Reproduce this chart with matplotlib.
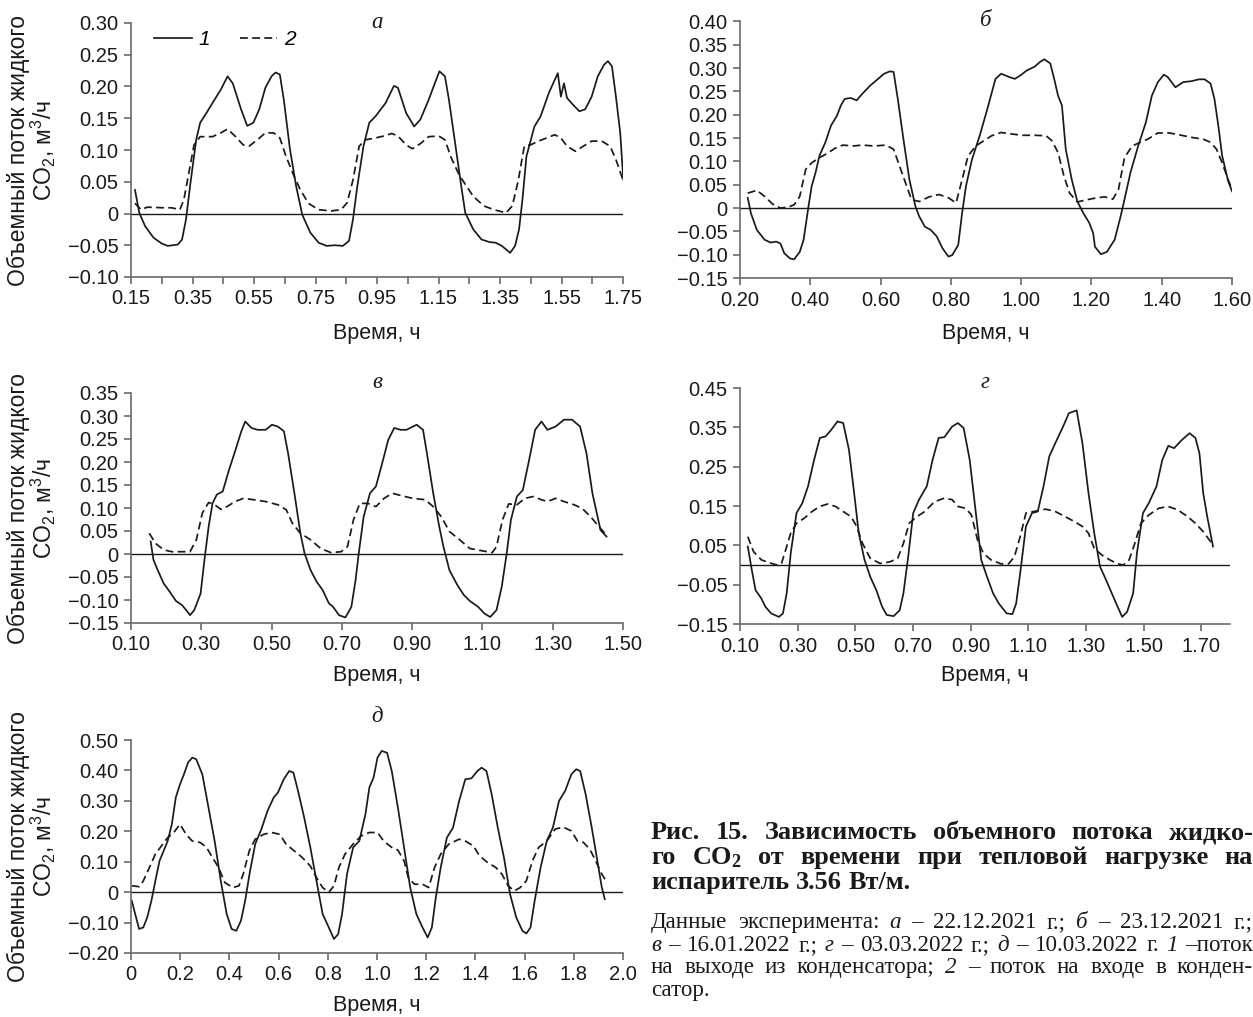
import numpy as np
import matplotlib
matplotlib.use('Agg')
import matplotlib.pyplot as plt
from matplotlib.ticker import FixedLocator, FuncFormatter
from matplotlib.lines import Line2D

plt.rcParams['font.family'] = ['Liberation Sans', 'DejaVu Sans']
plt.rcParams['mathtext.default'] = 'regular'

W, H = 1253, 1017

# ---------------------------------------------------------------------------
# data: (time, h ; flow, m3/h)
# 1 - outlet of condenser (solid), 2 - inlet of condenser (dashed)
# ---------------------------------------------------------------------------
a_out = np.array([
    [0.163, 0.037], [0.177, 0.001], [0.196, -0.020], [0.223, -0.038],
    [0.249, -0.047], [0.269, -0.051], [0.302, -0.049], [0.316, -0.041],
    [0.329, -0.009], [0.342, 0.043], [0.362, 0.116], [0.375, 0.143],
    [0.395, 0.158], [0.415, 0.174], [0.442, 0.195], [0.464, 0.216],
    [0.481, 0.205], [0.508, 0.164], [0.528, 0.138], [0.548, 0.143],
    [0.567, 0.164], [0.587, 0.198], [0.607, 0.216], [0.620, 0.222],
    [0.634, 0.219], [0.647, 0.179], [0.667, 0.101], [0.687, 0.043],
    [0.707, -0.002], [0.733, -0.030], [0.760, -0.046], [0.786, -0.051],
    [0.813, -0.050], [0.839, -0.051], [0.859, -0.043], [0.872, -0.009],
    [0.886, 0.043], [0.906, 0.106], [0.925, 0.143], [0.945, 0.153],
    [0.978, 0.174], [1.005, 0.201], [1.018, 0.198], [1.045, 0.158],
    [1.071, 0.137], [1.091, 0.148], [1.118, 0.179], [1.138, 0.205],
    [1.153, 0.224], [1.171, 0.216], [1.184, 0.179], [1.204, 0.111],
    [1.224, 0.043], [1.237, 0.001], [1.263, -0.025], [1.290, -0.041],
    [1.316, -0.045], [1.336, -0.046], [1.356, -0.051], [1.383, -0.062],
    [1.399, -0.051], [1.412, -0.025], [1.423, 0.022], [1.436, 0.090],
    [1.462, 0.137], [1.482, 0.153], [1.509, 0.190], [1.538, 0.221],
    [1.548, 0.184], [1.558, 0.205], [1.568, 0.182], [1.588, 0.171],
    [1.608, 0.161], [1.627, 0.164], [1.648, 0.184], [1.668, 0.216],
    [1.688, 0.234], [1.701, 0.240], [1.714, 0.232], [1.727, 0.184],
    [1.741, 0.127], [1.751, 0.053]])
a_in = np.array([
    [0.163, 0.016], [0.183, 0.006], [0.203, 0.010], [0.256, 0.009],
    [0.282, 0.009], [0.309, 0.006], [0.322, 0.022], [0.342, 0.074],
    [0.355, 0.108], [0.375, 0.121], [0.415, 0.121], [0.442, 0.127],
    [0.464, 0.133], [0.488, 0.122], [0.515, 0.108], [0.534, 0.106],
    [0.561, 0.116], [0.587, 0.127], [0.614, 0.127], [0.634, 0.119],
    [0.654, 0.090], [0.680, 0.059], [0.700, 0.038], [0.727, 0.016],
    [0.760, 0.006], [0.800, 0.004], [0.833, 0.006], [0.853, 0.017],
    [0.872, 0.053], [0.892, 0.106], [0.912, 0.116], [0.945, 0.119],
    [0.972, 0.122], [0.998, 0.126], [1.018, 0.122], [1.045, 0.108],
    [1.065, 0.102], [1.091, 0.110], [1.118, 0.121], [1.151, 0.122],
    [1.171, 0.116], [1.191, 0.088], [1.217, 0.061], [1.237, 0.046],
    [1.263, 0.027], [1.297, 0.012], [1.330, 0.006], [1.370, 0.001],
    [1.390, 0.012], [1.409, 0.051], [1.429, 0.106], [1.449, 0.108],
    [1.475, 0.114], [1.502, 0.119], [1.528, 0.124], [1.548, 0.119],
    [1.568, 0.106], [1.595, 0.098], [1.621, 0.106], [1.648, 0.114],
    [1.681, 0.114], [1.708, 0.106], [1.727, 0.085], [1.751, 0.051]])

b_out = np.array([
    [0.222, 0.022], [0.231, -0.011], [0.248, -0.047], [0.270, -0.068],
    [0.287, -0.074], [0.303, -0.072], [0.315, -0.076], [0.326, -0.097],
    [0.342, -0.108], [0.354, -0.110], [0.370, -0.094], [0.381, -0.068],
    [0.395, 0.004], [0.404, 0.047], [0.415, 0.076], [0.426, 0.112],
    [0.443, 0.141], [0.459, 0.177], [0.476, 0.198], [0.487, 0.220],
    [0.498, 0.234], [0.515, 0.236], [0.532, 0.231], [0.548, 0.245],
    [0.571, 0.263], [0.593, 0.277], [0.610, 0.288], [0.626, 0.293],
    [0.637, 0.292], [0.649, 0.234], [0.665, 0.148], [0.682, 0.061],
    [0.699, 0.004], [0.710, -0.018], [0.726, -0.040], [0.743, -0.047],
    [0.760, -0.061], [0.776, -0.086], [0.793, -0.104], [0.804, -0.101],
    [0.821, -0.079], [0.832, -0.011], [0.843, 0.047], [0.860, 0.104],
    [0.882, 0.155], [0.904, 0.213], [0.927, 0.277], [0.943, 0.288],
    [0.966, 0.281], [0.982, 0.277], [0.999, 0.285], [1.016, 0.295],
    [1.038, 0.303], [1.055, 0.314], [1.066, 0.319], [1.083, 0.310],
    [1.094, 0.277], [1.105, 0.241], [1.116, 0.220], [1.127, 0.126],
    [1.144, 0.061], [1.160, 0.014], [1.177, -0.011], [1.194, -0.032],
    [1.205, -0.054], [1.210, -0.083], [1.227, -0.099], [1.244, -0.094],
    [1.266, -0.068], [1.283, -0.018], [1.294, 0.018], [1.311, 0.076],
    [1.333, 0.133], [1.355, 0.184], [1.372, 0.241], [1.389, 0.270],
    [1.406, 0.286], [1.417, 0.281], [1.439, 0.259], [1.461, 0.270],
    [1.484, 0.272], [1.506, 0.276], [1.522, 0.276], [1.539, 0.267],
    [1.550, 0.234], [1.561, 0.177], [1.572, 0.112], [1.589, 0.058],
    [1.600, 0.036]])
b_in = np.array([
    [0.222, 0.032], [0.248, 0.038], [0.270, 0.025], [0.292, 0.009],
    [0.315, 0.000], [0.337, 0.002], [0.354, 0.007], [0.370, 0.025],
    [0.387, 0.083], [0.404, 0.097], [0.426, 0.108], [0.448, 0.117],
    [0.470, 0.128], [0.493, 0.135], [0.521, 0.133], [0.548, 0.135],
    [0.582, 0.133], [0.615, 0.135], [0.637, 0.126], [0.654, 0.090],
    [0.671, 0.054], [0.688, 0.018], [0.710, 0.014], [0.738, 0.024],
    [0.766, 0.029], [0.793, 0.022], [0.815, 0.011], [0.832, 0.061],
    [0.849, 0.112], [0.871, 0.133], [0.893, 0.144], [0.916, 0.155],
    [0.943, 0.162], [0.971, 0.159], [1.004, 0.156], [1.038, 0.156],
    [1.071, 0.155], [1.088, 0.144], [1.105, 0.119], [1.122, 0.068],
    [1.138, 0.032], [1.160, 0.013], [1.188, 0.018], [1.216, 0.022],
    [1.238, 0.024], [1.261, 0.019], [1.277, 0.040], [1.294, 0.108],
    [1.316, 0.133], [1.339, 0.141], [1.361, 0.148], [1.389, 0.161],
    [1.422, 0.161], [1.456, 0.156], [1.489, 0.151], [1.517, 0.148],
    [1.539, 0.141], [1.556, 0.126], [1.572, 0.097], [1.589, 0.061],
    [1.600, 0.040]])

v_out = np.array([
    [0.156, 0.027], [0.164, -0.013], [0.176, -0.035], [0.193, -0.064],
    [0.210, -0.082], [0.228, -0.102], [0.245, -0.111], [0.257, -0.122],
    [0.268, -0.133], [0.280, -0.122], [0.298, -0.086], [0.309, -0.013],
    [0.321, 0.060], [0.332, 0.110], [0.344, 0.129], [0.361, 0.136],
    [0.379, 0.183], [0.396, 0.223], [0.414, 0.267], [0.425, 0.288],
    [0.443, 0.274], [0.460, 0.270], [0.483, 0.270], [0.501, 0.281],
    [0.518, 0.277], [0.535, 0.267], [0.547, 0.219], [0.565, 0.132],
    [0.582, 0.045], [0.594, 0.001], [0.611, -0.035], [0.628, -0.060],
    [0.645, -0.078], [0.663, -0.107], [0.675, -0.115], [0.692, -0.133],
    [0.710, -0.138], [0.727, -0.115], [0.739, -0.057], [0.748, 0.001],
    [0.762, 0.081], [0.780, 0.132], [0.797, 0.147], [0.815, 0.198],
    [0.832, 0.248], [0.849, 0.274], [0.867, 0.270], [0.884, 0.270],
    [0.902, 0.277], [0.913, 0.281], [0.931, 0.270], [0.942, 0.219],
    [0.960, 0.132], [0.977, 0.060], [0.989, 0.016], [1.006, -0.035],
    [1.029, -0.068], [1.047, -0.089], [1.064, -0.102], [1.088, -0.115],
    [1.105, -0.129], [1.122, -0.137], [1.140, -0.122], [1.155, -0.071],
    [1.169, 0.001], [1.181, 0.074], [1.198, 0.125], [1.215, 0.139],
    [1.233, 0.205], [1.250, 0.270], [1.268, 0.288], [1.285, 0.270],
    [1.308, 0.277], [1.332, 0.292], [1.355, 0.292], [1.378, 0.277],
    [1.396, 0.219], [1.413, 0.132], [1.436, 0.052], [1.453, 0.038]])
v_in = np.array([
    [0.152, 0.045], [0.170, 0.023], [0.193, 0.009], [0.216, 0.005],
    [0.245, 0.005], [0.268, 0.005], [0.286, 0.031], [0.303, 0.089],
    [0.321, 0.112], [0.338, 0.107], [0.356, 0.097], [0.373, 0.103],
    [0.396, 0.114], [0.420, 0.121], [0.449, 0.118], [0.483, 0.114],
    [0.518, 0.107], [0.542, 0.096], [0.559, 0.067], [0.582, 0.045],
    [0.611, 0.031], [0.640, 0.012], [0.669, 0.003], [0.698, 0.005],
    [0.716, 0.016], [0.733, 0.074], [0.751, 0.110], [0.774, 0.110],
    [0.797, 0.103], [0.820, 0.121], [0.844, 0.132], [0.873, 0.126],
    [0.902, 0.121], [0.937, 0.118], [0.960, 0.103], [0.983, 0.081],
    [1.006, 0.049], [1.035, 0.031], [1.064, 0.012], [1.099, 0.007],
    [1.128, 0.003], [1.140, 0.016], [1.157, 0.074], [1.175, 0.109],
    [1.198, 0.107], [1.221, 0.121], [1.245, 0.125], [1.268, 0.118],
    [1.285, 0.114], [1.308, 0.121], [1.332, 0.114], [1.361, 0.107],
    [1.384, 0.099], [1.408, 0.081], [1.431, 0.060], [1.453, 0.041]])

g_out = np.array([
    [0.127, 0.047], [0.141, -0.013], [0.154, -0.064], [0.174, -0.085],
    [0.188, -0.106], [0.208, -0.123], [0.235, -0.132], [0.249, -0.123],
    [0.262, -0.072], [0.276, 0.030], [0.296, 0.132], [0.316, 0.157],
    [0.336, 0.200], [0.357, 0.267], [0.377, 0.323], [0.397, 0.327],
    [0.417, 0.344], [0.438, 0.365], [0.458, 0.361], [0.478, 0.293],
    [0.496, 0.183], [0.512, 0.081], [0.532, 0.013], [0.552, -0.030],
    [0.573, -0.064], [0.593, -0.106], [0.609, -0.127], [0.633, -0.130],
    [0.654, -0.115], [0.667, -0.072], [0.685, 0.030], [0.701, 0.132],
    [0.721, 0.166], [0.748, 0.200], [0.768, 0.267], [0.789, 0.323],
    [0.809, 0.325], [0.836, 0.352], [0.856, 0.361], [0.876, 0.348],
    [0.897, 0.267], [0.917, 0.140], [0.937, 0.013], [0.957, -0.030],
    [0.978, -0.072], [0.998, -0.098], [1.025, -0.123], [1.045, -0.125],
    [1.058, -0.098], [1.072, -0.021], [1.092, 0.098], [1.113, 0.132],
    [1.133, 0.136], [1.153, 0.200], [1.173, 0.276], [1.194, 0.310],
    [1.221, 0.352], [1.241, 0.386], [1.268, 0.393], [1.288, 0.310],
    [1.309, 0.183], [1.329, 0.081], [1.349, -0.004], [1.370, -0.038],
    [1.390, -0.072], [1.410, -0.106], [1.426, -0.132], [1.443, -0.119],
    [1.464, -0.072], [1.477, 0.030], [1.498, 0.132], [1.518, 0.157],
    [1.545, 0.200], [1.565, 0.267], [1.586, 0.303], [1.606, 0.297],
    [1.633, 0.318], [1.660, 0.335], [1.680, 0.323], [1.694, 0.284],
    [1.707, 0.183], [1.721, 0.123], [1.741, 0.047]])
g_in = np.array([
    [0.127, 0.072], [0.147, 0.034], [0.174, 0.013], [0.201, 0.006],
    [0.228, 0.000], [0.244, 0.004], [0.262, 0.047], [0.276, 0.081],
    [0.296, 0.106], [0.323, 0.119], [0.350, 0.136], [0.377, 0.149],
    [0.404, 0.155], [0.431, 0.149], [0.458, 0.136], [0.485, 0.123],
    [0.505, 0.098], [0.525, 0.055], [0.552, 0.017], [0.586, 0.004],
    [0.620, 0.008], [0.647, 0.017], [0.667, 0.055], [0.687, 0.106],
    [0.714, 0.123], [0.741, 0.136], [0.775, 0.161], [0.809, 0.170],
    [0.836, 0.166], [0.856, 0.149], [0.883, 0.144], [0.903, 0.127],
    [0.924, 0.064], [0.944, 0.030], [0.971, 0.013], [1.005, 0.003],
    [1.032, 0.003], [1.052, 0.021], [1.072, 0.072], [1.092, 0.132],
    [1.119, 0.136], [1.160, 0.142], [1.194, 0.136], [1.228, 0.123],
    [1.261, 0.110], [1.288, 0.098], [1.309, 0.081], [1.329, 0.042],
    [1.356, 0.025], [1.383, 0.013], [1.410, 0.003], [1.430, 0.000],
    [1.450, 0.013], [1.468, 0.051], [1.491, 0.106], [1.518, 0.127],
    [1.552, 0.144], [1.585, 0.149], [1.619, 0.140], [1.653, 0.123],
    [1.680, 0.106], [1.707, 0.085], [1.741, 0.051]])

d_out = np.array([
    [0.003, -0.028], [0.017, -0.072], [0.033, -0.121], [0.050, -0.116],
    [0.066, -0.083], [0.083, -0.028], [0.099, 0.037], [0.116, 0.103],
    [0.133, 0.136], [0.149, 0.168], [0.166, 0.223], [0.182, 0.311],
    [0.199, 0.354], [0.215, 0.387], [0.232, 0.426], [0.249, 0.442],
    [0.265, 0.437], [0.290, 0.387], [0.315, 0.278], [0.340, 0.168],
    [0.365, 0.037], [0.389, -0.072], [0.409, -0.121], [0.428, -0.127],
    [0.447, -0.094], [0.464, -0.028], [0.484, 0.070], [0.505, 0.158],
    [0.530, 0.207], [0.555, 0.267], [0.580, 0.311], [0.597, 0.327],
    [0.621, 0.371], [0.643, 0.398], [0.660, 0.393], [0.679, 0.333],
    [0.704, 0.245], [0.729, 0.147], [0.754, 0.037], [0.779, -0.072],
    [0.804, -0.116], [0.825, -0.154], [0.842, -0.138], [0.858, -0.072],
    [0.878, 0.059], [0.903, 0.147], [0.928, 0.168], [0.953, 0.256],
    [0.969, 0.344], [0.986, 0.376], [1.002, 0.442], [1.019, 0.464],
    [1.041, 0.458], [1.060, 0.398], [1.085, 0.278], [1.110, 0.147],
    [1.135, 0.015], [1.160, -0.072], [1.185, -0.116], [1.206, -0.149],
    [1.223, -0.116], [1.239, -0.018], [1.259, 0.081], [1.284, 0.179],
    [1.309, 0.212], [1.334, 0.300], [1.359, 0.371], [1.384, 0.374],
    [1.408, 0.398], [1.425, 0.409], [1.445, 0.398], [1.466, 0.322],
    [1.491, 0.212], [1.516, 0.114], [1.541, -0.007], [1.566, -0.083],
    [1.591, -0.127], [1.607, -0.136], [1.624, -0.116], [1.641, -0.028],
    [1.665, 0.081], [1.690, 0.168], [1.715, 0.212], [1.740, 0.300],
    [1.765, 0.333], [1.790, 0.387], [1.810, 0.404], [1.826, 0.398],
    [1.848, 0.322], [1.873, 0.212], [1.898, 0.092], [1.914, 0.015],
    [1.926, -0.023]])
d_in = np.array([
    [0.003, 0.021], [0.033, 0.018], [0.050, 0.037], [0.075, 0.081],
    [0.099, 0.125], [0.124, 0.152], [0.149, 0.179], [0.174, 0.196],
    [0.199, 0.223], [0.224, 0.190], [0.249, 0.168], [0.282, 0.163],
    [0.307, 0.147], [0.331, 0.114], [0.356, 0.081], [0.381, 0.032],
    [0.414, 0.015], [0.439, 0.021], [0.456, 0.059], [0.481, 0.136],
    [0.505, 0.174], [0.539, 0.190], [0.572, 0.196], [0.605, 0.190],
    [0.630, 0.158], [0.663, 0.136], [0.696, 0.114], [0.729, 0.086],
    [0.754, 0.048], [0.779, 0.015], [0.804, -0.001], [0.825, 0.021],
    [0.845, 0.081], [0.870, 0.125], [0.903, 0.158], [0.936, 0.185],
    [0.969, 0.196], [1.002, 0.196], [1.027, 0.168], [1.060, 0.147],
    [1.085, 0.138], [1.110, 0.103], [1.127, 0.048], [1.152, 0.026],
    [1.185, 0.026], [1.210, 0.015], [1.234, 0.081], [1.259, 0.125],
    [1.292, 0.158], [1.334, 0.174], [1.359, 0.168], [1.392, 0.152],
    [1.417, 0.119], [1.450, 0.097], [1.483, 0.081], [1.508, 0.059],
    [1.533, 0.021], [1.558, 0.004], [1.582, 0.015], [1.607, 0.037],
    [1.632, 0.103], [1.657, 0.147], [1.690, 0.168], [1.724, 0.207],
    [1.757, 0.214], [1.790, 0.201], [1.815, 0.168], [1.840, 0.163],
    [1.865, 0.141], [1.889, 0.103], [1.914, 0.059], [1.931, 0.037]])

# panel letters, axis ranges and ticks
letters = ['а', 'б', 'в', 'г', 'д']
xlims = [(0.15, 1.75), (0.20, 1.60), (0.10, 1.50), (0.10, 1.80), (0.0, 2.0)]
ylims = [(-0.10, 0.30), (-0.15, 0.40), (-0.15, 0.35), (-0.15, 0.45),
         (-0.20, 0.50)]
xticks = [np.arange(0.15, 1.76, 0.2), np.arange(0.2, 1.61, 0.2),
          np.arange(0.1, 1.51, 0.2), np.arange(0.1, 1.71, 0.2),
          np.arange(0.0, 2.01, 0.2)]
yticks = [np.arange(-0.10, 0.301, 0.05), np.arange(-0.15, 0.401, 0.05),
          np.arange(-0.15, 0.351, 0.05), np.arange(-0.15, 0.451, 0.1),
          np.arange(-0.20, 0.501, 0.1)]
xdec = [2, 2, 2, 2, 1]
series = [(a_out, a_in), (b_out, b_in), (v_out, v_in), (g_out, g_in),
          (d_out, d_in)]

# axes boxes in pixels: left, top, right, bottom
boxes = [(131, 23, 623, 277), (740, 21.5, 1232, 278), (131, 393, 623, 623),
         (740, 388, 1230, 624), (131, 740, 623, 953)]
title_y = [22, 20, 383, 383, 717]
xlab_y = [333, 333, 676, 676, 1005]

grey = '#6a6a6a'
ink = '#1a1a1a'


def num_fmt(dec):
    def f(v, pos):
        if abs(v) < 1e-9:
            return '0'
        return ('%.*f' % (dec, v)).replace('-', '\u2212')
    return FuncFormatter(f)


fig = plt.figure(figsize=(W / 100, H / 100), dpi=100)

for i in range(5):
    l, t, r, b = boxes[i]
    ax = fig.add_axes([l / W, 1 - b / H, (r - l) / W, (b - t) / H])
    out, inn = series[i]
    ax.plot(out[:, 0], out[:, 1], color=ink, lw=1.25, solid_joinstyle='round')
    ax.plot(inn[:, 0], inn[:, 1], color=ink, lw=1.25, dashes=(4.5, 2.5))
    ax.axhline(0, color=ink, lw=1.0)

    ax.set_xlim(*xlims[i])
    ax.set_ylim(*ylims[i])
    ax.xaxis.set_major_locator(FixedLocator(xticks[i]))
    ax.yaxis.set_major_locator(FixedLocator(yticks[i]))
    ax.xaxis.set_major_formatter(num_fmt(xdec[i]))
    ax.yaxis.set_major_formatter(num_fmt(2))
    if i == 0:
        ax.xaxis.set_minor_locator(FixedLocator(np.arange(0.25, 1.7, 0.2)))
    for s in ['top', 'right']:
        ax.spines[s].set_visible(False)
    for s in ['left', 'bottom']:
        ax.spines[s].set_color(grey)
        ax.spines[s].set_linewidth(1.2)
    ax.tick_params(which='both', direction='out', length=5, width=1.2,
                   color=grey, labelcolor=ink, labelsize=14.5, pad=4)
    ax.patch.set_visible(False)

    cx = (l + r) / 2
    fig.text(cx / W, 1 - title_y[i] / H, letters[i], ha='center', va='center',
             family=['Liberation Serif', 'DejaVu Serif'], style='italic',
             fontsize=16.5, color=ink)
    fig.text(cx / W, 1 - xlab_y[i] / H, 'Время, ч', ha='center',
             va='center', fontsize=15.5, color=ink)
    if l < 400:
        fig.text(32 / W, 1 - (t + b) / 2 / H,
                 'Объемный поток жидкого\nCO$_2$, м$^3$/ч', rotation=90,
                 ha='center', va='center', multialignment='center',
                 fontsize=16.5, color=ink, linespacing=0.95)
    if i == 0:
        hs = [Line2D([], [], color=ink, lw=1.25),
              Line2D([], [], color=ink, lw=1.25, dashes=(4.5, 2.5))]
        ax.legend(hs, ['1', '2'], loc='upper left',
                  bbox_to_anchor=(154 / W, 1 - 30 / H),
                  bbox_transform=fig.transFigure, ncol=2, frameon=False,
                  handlelength=1.8, handletextpad=0.35, columnspacing=1.4,
                  borderpad=0, borderaxespad=0,
                  prop={'style': 'italic', 'size': 15})

# ---------------------------------------------------------------------------
# caption (justified lines, word by word)
# ---------------------------------------------------------------------------
serif = ['Liberation Serif', 'DejaVu Serif']
bold_lines = [
    ('Рис. 15. Зависимость объемного потока жидко-', True),
    ('го CO$_2$ от времени при тепловой нагрузке на', True),
    ('испаритель 3.56 Вт/м.', False)]
plain_lines = [
    ([('Данные', 0), ('эксперимента:', 0), ('а', 1), ('–', 0),
      ('22.12.2021', 0), ('г.;', 0), ('б', 1), ('–', 0), ('23.12.2021', 0),
      ('г.;', 0)], True),
    ([('в', 1), ('–', 0), ('16.01.2022', 0), ('г.;', 0), ('г', 1), ('–', 0),
      ('03.03.2022', 0), ('г.;', 0), ('д', 1), ('–', 0), ('10.03.2022', 0),
      ('г.', 0), ('1', 1), ('–поток', 0)], True),
    ([('на', 0), ('выходе', 0), ('из', 0), ('конденсатора;', 0), ('2', 1),
      ('–', 0), ('поток', 0), ('на', 0), ('входе', 0), ('в', 0),
      ('конден-', 0)], True),
    ([('сатор.', 0)], False)]

renderer = fig.canvas.get_renderer()
x0, x1 = 651, 1253


def fit_size(text, weight, target):
    probe = fig.text(0, 0, text, fontsize=10, fontweight=weight, family=serif)
    w = probe.get_window_extent(renderer).width
    probe.remove()
    return 10 * target / w


def put_line(tokens, y, size, weight, justify):
    arts, widths = [], []
    for txt, it in tokens:
        tx = fig.text(0, 0, txt, fontsize=size, fontweight=weight,
                      style='italic' if it else 'normal', family=serif,
                      color=ink, va='baseline', ha='left')
        arts.append(tx)
        widths.append(tx.get_window_extent(renderer).width)
    space = size * 100 / 72 * 0.25
    if justify and len(tokens) > 1:
        gap = (x1 - x0 - sum(widths)) / (len(tokens) - 1)
    else:
        gap = space
    x = x0
    for tx, w in zip(arts, widths):
        tx.set_position((x / W, 1 - y / H))
        x += w + gap


bsize = fit_size(bold_lines[0][0], 'bold', x1 - x0) * 0.92
psize = fit_size('Данные эксперимента: а – 22.12.2021 г.; б – 23.12.2021 г.;',
                 'normal', x1 - x0) * 0.93
for k, (line, just) in enumerate(bold_lines):
    put_line([(w, 0) for w in line.split(' ')], 839 + 25 * k, bsize, 'bold',
             just)
for k, (tokens, just) in enumerate(plain_lines):
    put_line(tokens, 928 + 22.7 * k, psize, 'normal', just)

fig.savefig('out.png', dpi=100)
